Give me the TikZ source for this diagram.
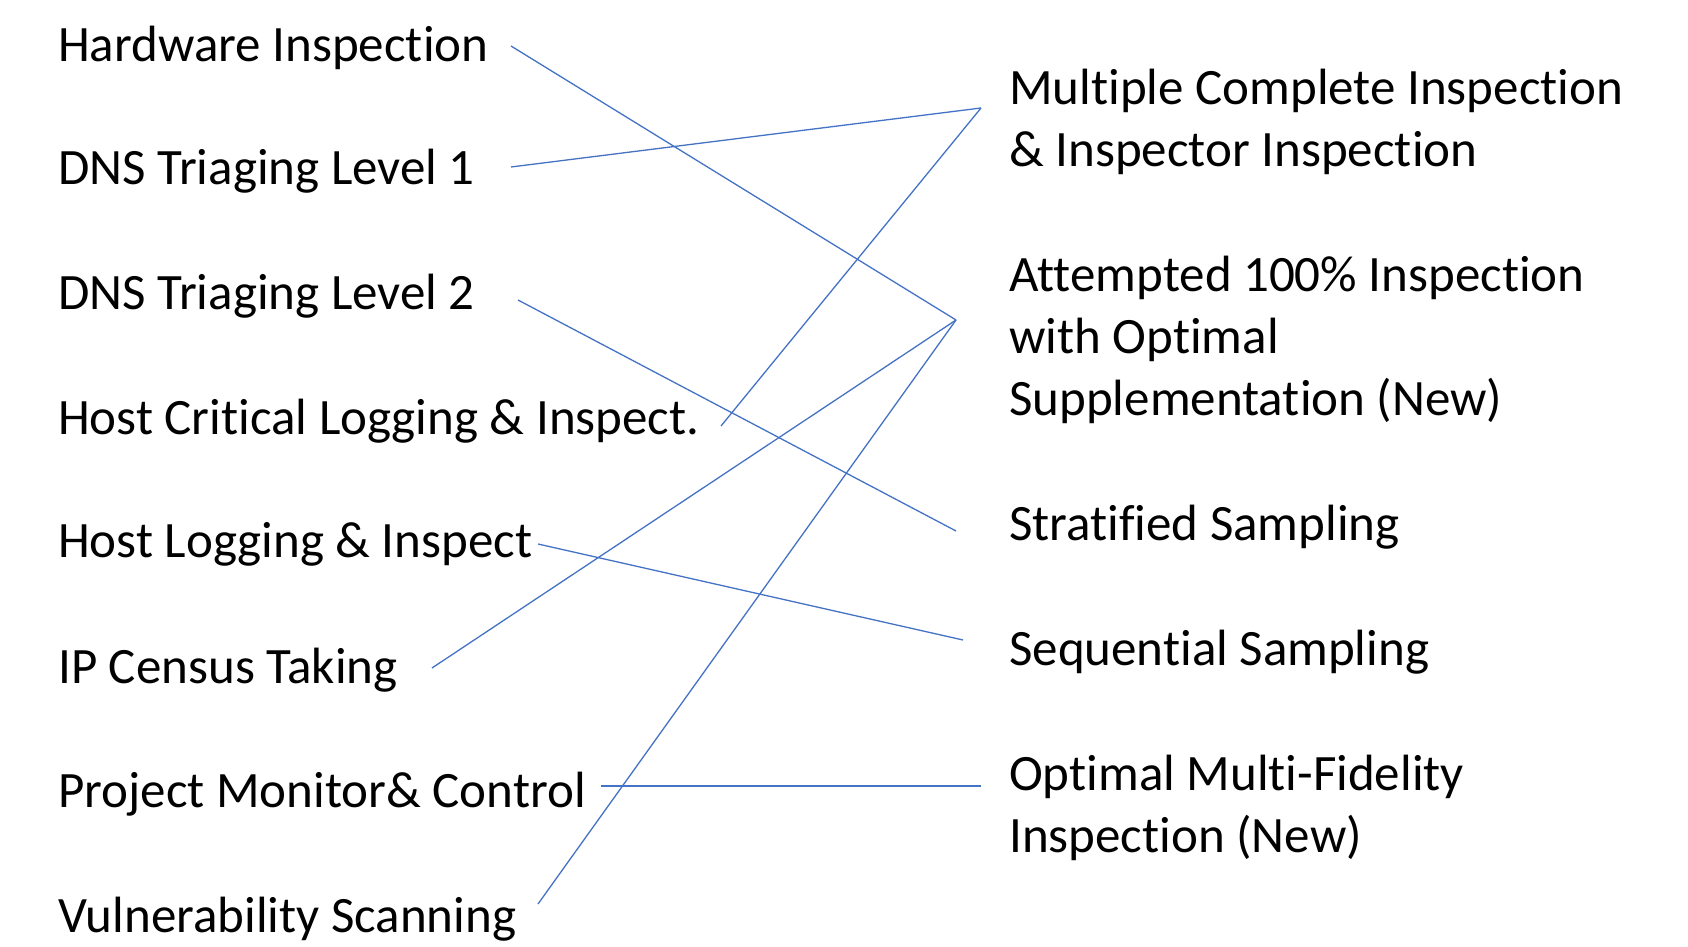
\documentclass[tikz,border=0pt]{standalone}
\usepackage{fontspec}
\setmainfont{Carlito}[Ligatures=NoCommon]
\definecolor{linkblue}{HTML}{4472C4}
\begin{document}
\begin{tikzpicture}[x=1pt,y=1pt,
  lbl/.style={anchor=base west,inner sep=0pt,font=\fontsize{51}{62}\selectfont,align=left},
  link/.style={draw=linkblue,line width=1.3pt}]
\useasboundingbox (0,0) rectangle (1688,946);
% activities (left column)
\node[lbl] (hw)   at (58,946-62)  {Hardware Inspection};
\node[lbl] (dns1) at (58,946-185) {DNS Triaging Level 1};
\node[lbl] (dns2) at (58,946-310) {DNS Triaging Level 2};
\node[lbl] (hcl)  at (58,946-435) {Host Critical Logging \& Inspect.};
\node[lbl] (hli)  at (58,946-557) {Host Logging \& Inspect};
\node[lbl] (ipc)  at (58,946-683) {IP Census Taking};
\node[lbl] (pmc)  at (58,946-807) {Project Monitor\& Control};
\node[lbl] (vuln) at (58,946-932) {Vulnerability Scanning};
% methods (right column); base anchor sits on the last line
\node[lbl] (mci)  at (1009,946-167) {Multiple Complete Inspection\\\& Inspector Inspection};
\node[lbl] (att)  at (1009,946-416) {Attempted 100\% Inspection\\with Optimal\\Supplementation (New)};
\node[lbl] (strat) at (1009,946-540) {Stratified Sampling};
\node[lbl] (seq)  at (1009,946-665) {Sequential Sampling};
\node[lbl] (omf)  at (1009,946-852) {Optimal Multi-Fidelity\\Inspection (New)};
% attachment points
\coordinate (hw-o)   at (511,946-46);
\coordinate (dns1-o) at (511,946-167);
\coordinate (dns2-o) at (518,946-300);
\coordinate (hcl-o)  at (721,946-426);
\coordinate (hli-o)  at (538,946-544);
\coordinate (ipc-o)  at (432,946-668);
\coordinate (pmc-o)  at (601,946-786);
\coordinate (vuln-o) at (538,946-904);
\coordinate (mci-i)  at (981,946-108);
\coordinate (att-i)  at (956,946-320);
\coordinate (strat-i) at (956,946-531);
\coordinate (seq-i)  at (963,946-640);
\coordinate (omf-i)  at (981,946-786);
% connectors
\draw[link] (hw-o) -- (att-i);
\draw[link] (dns1-o) -- (mci-i);
\draw[link] (dns2-o) -- (strat-i);
\draw[link] (hcl-o) -- (mci-i);
\draw[link] (hli-o) -- (seq-i);
\draw[link] (ipc-o) -- (att-i);
\draw[link] (pmc-o) -- (omf-i);
\draw[link] (vuln-o) -- (att-i);
\end{tikzpicture}
\end{document}
